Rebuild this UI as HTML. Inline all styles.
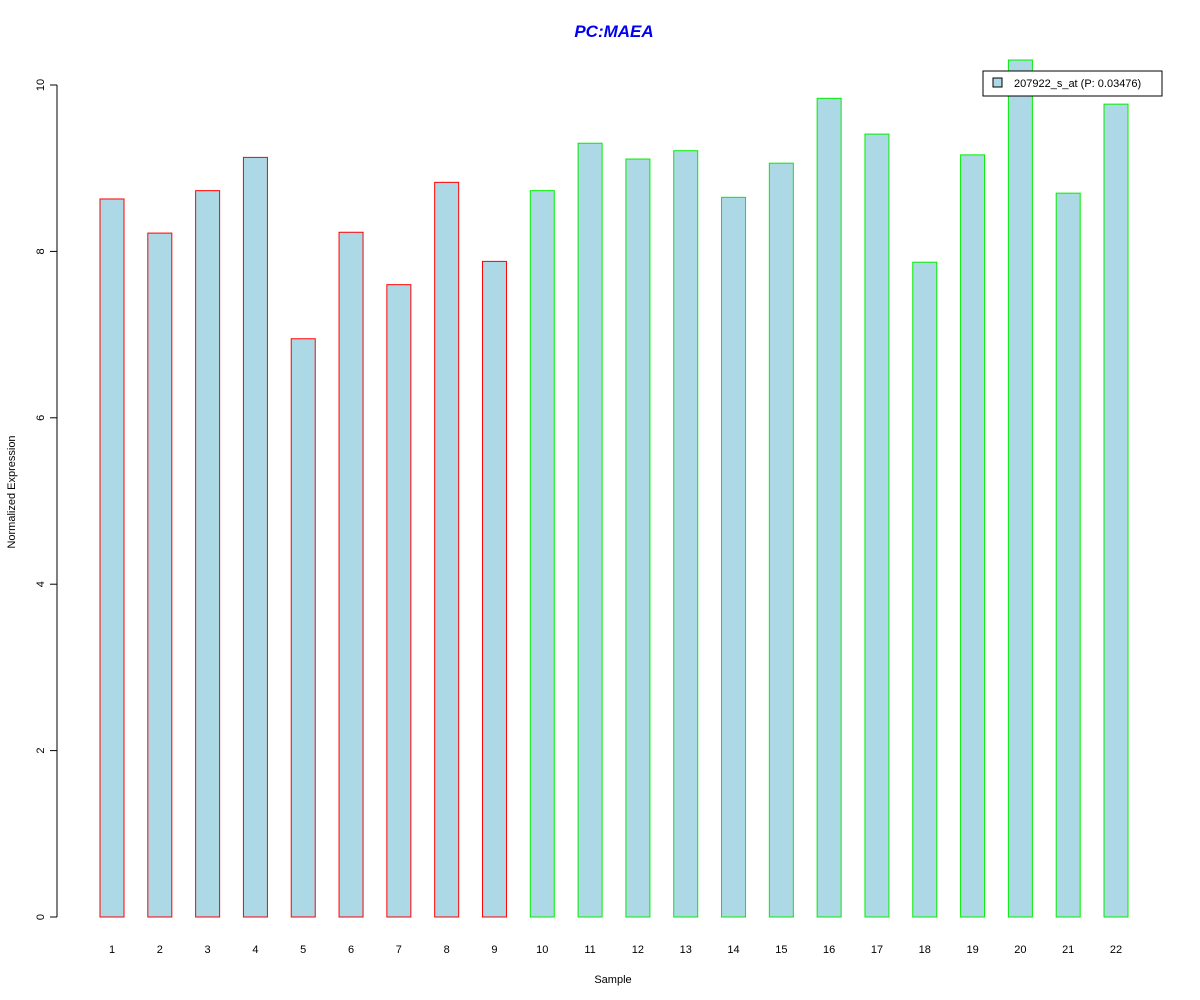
<!DOCTYPE html>
<html><head><meta charset="utf-8"><style>
body{margin:0;background:#fff}
svg{display:block;font-family:"Liberation Sans",Arial,sans-serif}
</style></head><body>
<svg id="chart" width="1200" height="1000">
<text x="614" y="37" text-anchor="middle" font-size="17" font-weight="bold" font-style="italic" fill="#0000ee">PC:MAEA</text>
<text x="613" y="983" text-anchor="middle" font-size="11">Sample</text>
<text transform="translate(15,492) rotate(-90)" text-anchor="middle" font-size="11">Normalized Expression</text>
<g id="yaxis"></g>
<g id="bars"></g>
<g id="xlabels"></g>
<g>
<rect x="983" y="71" width="179" height="25" fill="#fff" stroke="#000"/>
<rect x="993" y="78" width="9" height="9" fill="#add8e6" stroke="#000"/>
<text x="1014" y="87" font-size="11">207922_s_at (P: 0.03476)</text>
</g>
</svg>
<script>
const categories=["1","2","3","4","5","6","7","8","9","10","11","12","13","14","15","16","17","18","19","20","21","22"];
const values=[8.63,8.22,8.73,9.13,6.95,8.23,7.60,8.83,7.88,8.73,9.30,9.11,9.21,8.65,9.06,9.84,9.41,7.87,9.16,10.30,8.70,9.77];
const groups=["PC","PC","PC","PC","PC","PC","PC","PC","PC","N","N","N","N","N","N","N","N","N","N","N","N","N"];
const yTicks=[0,2,4,6,8,10];
const NS="http://www.w3.org/2000/svg";
const y=v=>917-v*83.2;
const x=i=>112+i*47.81;
function mk(t,a,p){const e=document.createElementNS(NS,t);for(const k in a)e.setAttribute(k,a[k]);p.appendChild(e);return e;}
const ya=document.getElementById('yaxis');
mk('line',{x1:57,x2:57,y1:y(0),y2:y(10),stroke:'#000'},ya);
yTicks.forEach(t=>{
 const l=mk('line',{x1:50,x2:57,y1:y(t),y2:y(t),stroke:'#000'},ya);
 
 
 const tx=mk('text',{transform:`translate(44,${y(t)}) rotate(-90)`,'text-anchor':'middle','font-size':11},ya);
 tx.textContent=t;
 
 
});
const bg=document.getElementById('bars'),xl=document.getElementById('xlabels');
values.forEach((v,i)=>{
 const r=mk('rect',{x:x(i)-12,y:y(v),width:24,height:y(0)-y(v),fill:'#add8e6',stroke:groups[i]==="PC"?'#ff0000':'#00ee00'},bg);
 
 
 const t=mk('text',{x:x(i),y:953,'text-anchor':'middle','font-size':11},xl);
 t.textContent=categories[i];
 
 
});
</script>
</body></html>
